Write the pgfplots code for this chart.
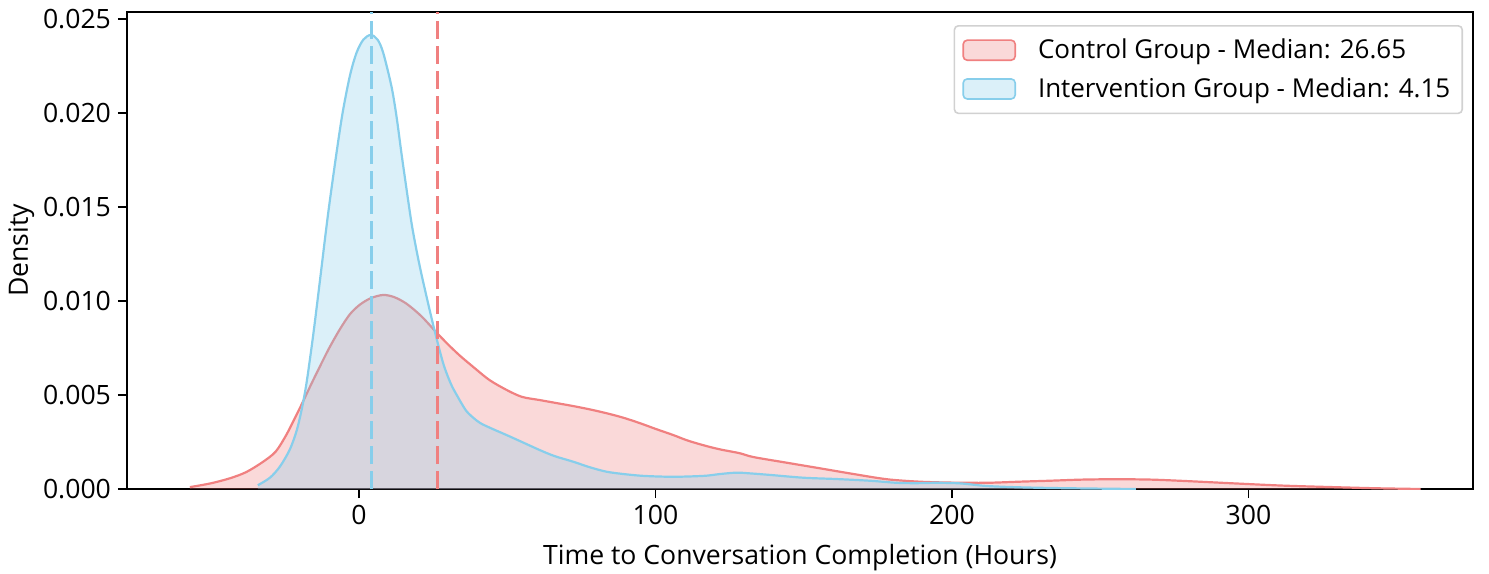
\documentclass[border=0pt]{standalone}
\usepackage{pgfplots}
\usepackage{pgfplotstable}
\pgfplotsset{compat=1.18}
\usepackage{fontspec}
\setmainfont{Open Sans}
\definecolor{cred}{HTML}{F08080}
\definecolor{cblue}{HTML}{87CEEB}

\pgfplotstableread{
x y
-57 0.0001
-50 0.0003
-43.5 0.00057
-38 0.0009
-32.3 0.00145
-28 0.0020
-24.4 0.0029
-21.5 0.0038
-19 0.0046
-16 0.0056
-13.2 0.0065
-10 0.0075
-6.4 0.0085
-3 0.0093
0.3 0.0098
4 0.01015
8.2 0.01032
12 0.0102
16.1 0.00985
21 0.0092
25.9 0.00837
30 0.0077
34 0.0071
38.5 0.0065
44 0.0058
49.8 0.00527
55 0.0049
61 0.00473
67 0.00456
72.3 0.00441
78 0.00423
83.5 0.00403
89 0.0038
94.8 0.0035
100 0.0032
106 0.00287
111 0.00257
117.3 0.00228
122 0.0021
128.5 0.0019
133 0.0017
144.2 0.0014
155.5 0.0011
166.7 0.0008
178 0.00052
189 0.00039
200 0.00034
211.7 0.00033
222.9 0.00039
233 0.00044
244 0.0005
255.5 0.00052
267 0.0005
278 0.00043
295 0.0003
311.7 0.00018
328.6 0.0001
343 0.00004
358 0.0
}\redtab

\pgfplotstableread{
x y
-34.1 0.0002
-30 0.0006
-26.6 0.0012
-23.3 0.0021
-21.0 0.0031
-19.2 0.0043
-17.6 0.0057
-15.4 0.0082
-13.2 0.0110
-10.5 0.0145
-7.8 0.0176
-5.5 0.0200
-3 0.0220
-0.8 0.0232
1.5 0.0239
4.0 0.02415
6.3 0.0239
8.2 0.0232
11.0 0.0214
12.7 0.0198
14.4 0.0178
16.2 0.0158
17.9 0.0140
19.8 0.0124
21.7 0.0110
25.1 0.0087
28.4 0.0067
31 0.0056
33 0.0050
36 0.0042
38.5 0.0038
41 0.0035
45 0.0032
49.8 0.00287
55 0.0025
61 0.00207
66 0.00175
72.3 0.00145
78 0.00115
83.5 0.00092
89 0.0008
94.8 0.00071
100 0.00067
106 0.00065
112 0.00067
117.3 0.00071
122 0.0008
127.4 0.00087
132 0.00083
138.6 0.00075
149.9 0.0006
161.1 0.00053
172.3 0.00044
181.3 0.00033
188 0.00031
194.8 0.00033
202.7 0.0003
211.7 0.00016
222.9 0.00009
235 0.00005
250 0.00002
262 0.0
}\bluetab

\begin{document}
\begin{tikzpicture}
\begin{axis}[
  scale only axis,
  width=673pt, height=238.5pt,
  xmin=-78.2, xmax=375.7, ymin=0, ymax=0.02537,
  xtick={0,100,200,300},
  ytick={0,0.005,0.01,0.015,0.02,0.025},
  scaled y ticks=false,
  yticklabel style={/pgf/number format/.cd, fixed, fixed zerofill, precision=3},
  /pgf/number format/assume math mode=true,
  tick align=outside, tick pos=left,
  major tick length=4.5pt,
  every tick/.style={black, line width=0.7pt},
  axis line style={line width=0.8pt},
  tick label style={font=\fontsize{13.3}{16}\selectfont},
  label style={font=\fontsize{13.3}{16}\selectfont},
  xlabel={Time to Conversation Completion (Hours)},
  xlabel style={yshift=-3pt},
  ylabel={Density},
  ylabel style={yshift=-2.5pt},
  legend image code/.code={\draw[#1] (0pt,-5pt) rectangle (26pt,5pt);},
  legend style={at={(rel axis cs:0.9926,0.9727)}, anchor=north east,
    draw=black!18, line width=0.8pt, rounded corners=2pt,
    font=\fontsize{13}{15.5}\selectfont, row sep=4pt,
    inner xsep=4pt, inner ysep=4.5pt,
    /tikz/every odd column/.append style={column sep=9pt}},
  legend cell align=left,
]
\addlegendimage{draw=cred, fill=cred!30, line width=0.8pt}
\addlegendentry{Control Group - Median: 26.65}
\addlegendimage{draw=cblue, fill=cblue!30, line width=0.8pt}
\addlegendentry{Intervention Group - Median: 4.15}

\addplot[forget plot, smooth, draw=none, fill=cred, fill opacity=0.3] table[x=x,y=y] {\redtab} \closedcycle;
\addplot[forget plot, smooth, draw=cred, line width=1.1pt] table[x=x,y=y] {\redtab};
\addplot[forget plot, smooth, draw=none, fill=cblue, fill opacity=0.3] table[x=x,y=y] {\bluetab} \closedcycle;
\addplot[forget plot, smooth, draw=cblue, line width=1.1pt] table[x=x,y=y] {\bluetab};

\addplot[forget plot, draw=cred, line width=1.5pt, dash pattern=on 9pt off 3.5pt] coordinates {(26.65,0) (26.65,0.02537)};
\addplot[forget plot, draw=cblue, line width=1.5pt, dash pattern=on 9pt off 3.5pt] coordinates {(4.15,0) (4.15,0.02537)};

\coordinate (sw) at (rel axis cs:0,0);
\coordinate (ne) at (rel axis cs:1,1);
\end{axis}
\pgfresetboundingbox
\path[use as bounding box] ([xshift=-63.5pt,yshift=-42pt]sw) rectangle ([xshift=8pt,yshift=6pt]ne);
\end{tikzpicture}
\end{document}
